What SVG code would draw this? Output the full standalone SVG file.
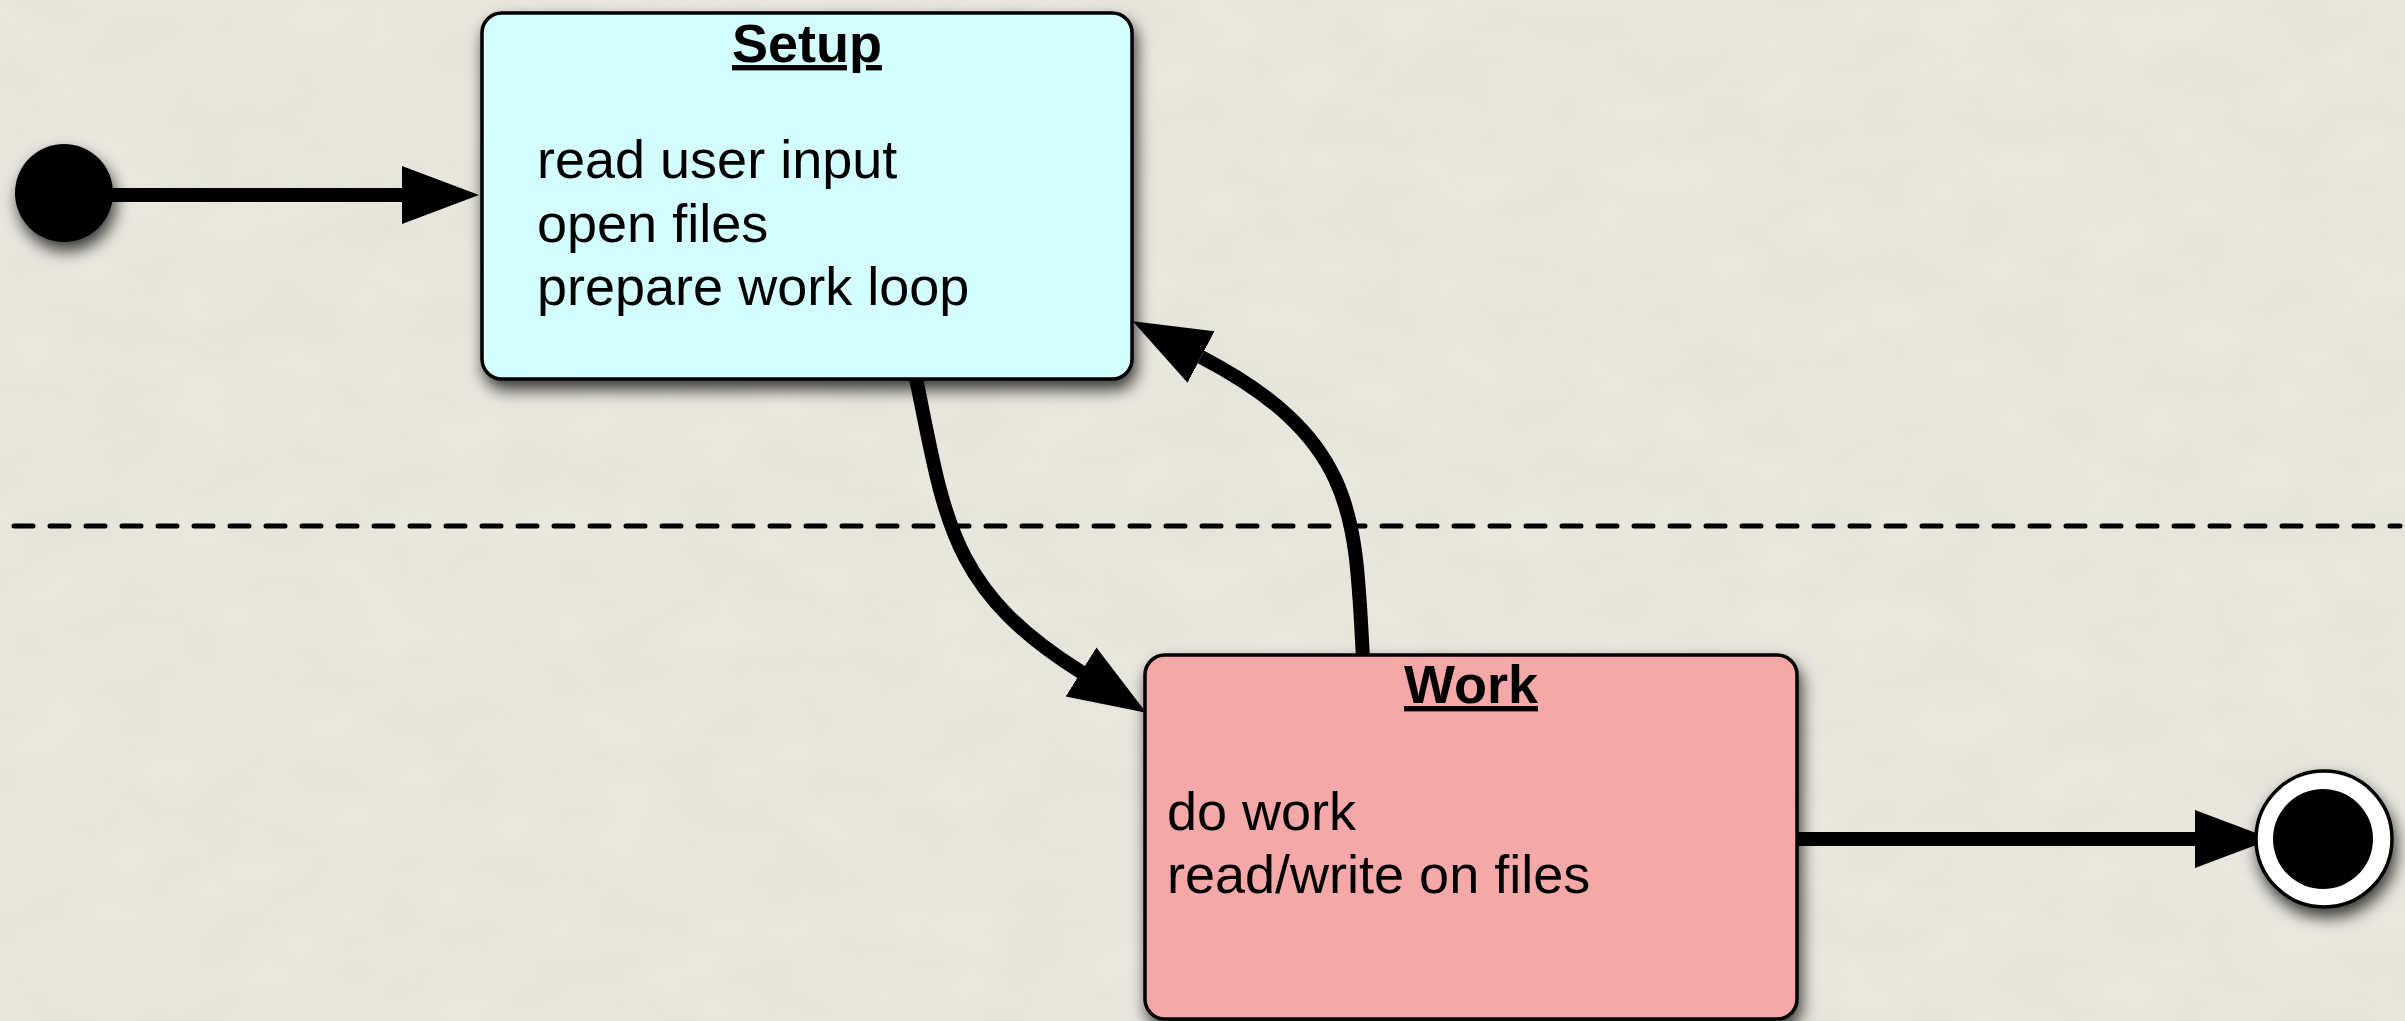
<svg xmlns="http://www.w3.org/2000/svg" width="2405" height="1021" viewBox="0 0 2405 1021">
  <style>
    .box { stroke: #000; stroke-width: 3.5; }
    .title { font-family: "Liberation Sans", Arial, sans-serif; font-size: 54px; font-weight: bold; text-anchor: middle; text-decoration: underline; fill: #000; }
    .body { font-family: "Liberation Sans", Arial, sans-serif; font-size: 54px; fill: #000; }
    .edge { fill: none; stroke: #000; stroke-width: 14; }
    .divider { fill: none; stroke: #000; stroke-width: 5; stroke-dasharray: 19 17; stroke-linecap: round; }
  </style>
  <defs>
    <filter id="shadow" x="-20%" y="-20%" width="140%" height="150%">
      <feDropShadow dx="3" dy="9" stdDeviation="8" flood-color="#000" flood-opacity="0.75"/>
    </filter>
    <filter id="paper" x="0" y="0" width="100%" height="100%">
      <feTurbulence type="fractalNoise" baseFrequency="0.012 0.02" numOctaves="4" seed="7" result="n"/>
      <feColorMatrix in="n" type="matrix" values="0 0 0 0 0.55  0 0 0 0 0.54  0 0 0 0 0.48  0 0 0 0.18 -0.04"/>
    </filter>
    <marker id="head" markerUnits="userSpaceOnUse" markerWidth="80" markerHeight="60" refX="0" refY="29" orient="auto">
      <path d="M0,0 L77,29 L0,58 Z" fill="#000"/>
    </marker>
  </defs>

  <!-- paper background -->
  <rect width="2405" height="1021" fill="#e9e7de"/>
  <rect width="2405" height="1021" filter="url(#paper)"/>

  <!-- dashed divider -->
  <line class="divider" x1="14" y1="526" x2="2400" y2="526"/>

  <!-- connectors -->
  <g id="connectors">
    <line class="edge" x1="100" y1="195" x2="402" y2="195" marker-end="url(#head)"/>
    <path class="edge" d="M916,378 C945,520 950,590 1081,672" marker-end="url(#head)" stroke-linecap="round"/>
    <path class="edge" d="M1363,658 C1355,520 1360,440 1201,357" marker-end="url(#head)"/>
    <line class="edge" x1="1797" y1="839" x2="2195" y2="839" marker-end="url(#head)"/>
  </g>

  <!-- initial state -->
  <g id="start" filter="url(#shadow)">
    <circle cx="64" cy="193" r="49" fill="#000"/>
  </g>

  <!-- Setup state -->
  <g id="setup">
    <rect class="box" x="482" y="13" width="650" height="366" rx="20" fill="#d4fefd" filter="url(#shadow)"/>
    <text class="title" x="807" y="62">Setup</text>
    <text class="body" x="537" y="178">read user input</text>
    <text class="body" x="537" y="242">open files</text>
    <text class="body" x="537" y="305">prepare work loop</text>
  </g>

  <!-- Work state -->
  <g id="work">
    <rect class="box" x="1145" y="655" width="652" height="364" rx="20" fill="#f5a8a8" filter="url(#shadow)"/>
    <text class="title" x="1471" y="703">Work</text>
    <text class="body" x="1167" y="830">do work</text>
    <text class="body" x="1167" y="893">read/write on files</text>
  </g>

  <!-- final state -->
  <g id="end" filter="url(#shadow)">
    <circle cx="2324" cy="839" r="68" fill="#fff" stroke="#000" stroke-width="3.5"/>
    <circle cx="2323" cy="839" r="50" fill="#000"/>
  </g>
</svg>
